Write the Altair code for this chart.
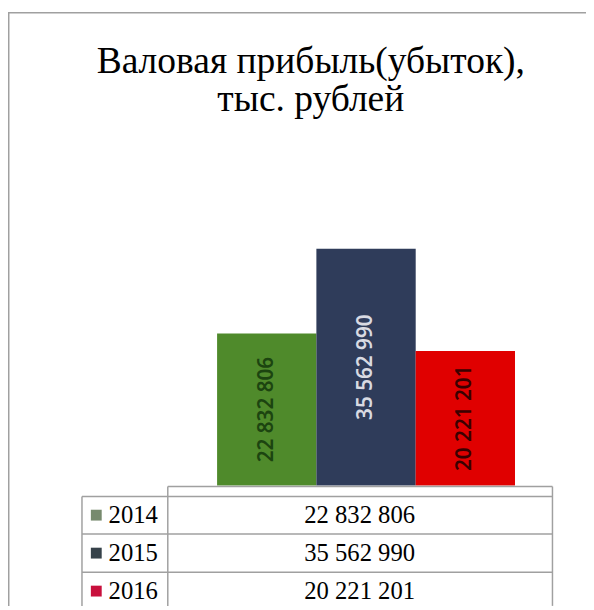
import altair as alt
import pandas as pd

years = ["2014", "2015", "2016"]
values = [22832806, 35562990, 20221201]
title_lines = ["Валовая прибыль(убыток),", "тыс. рублей"]

bar_colors = ["#4f8a2b", "#2f3c5a", "#e00000"]
label_colors = ["#1c4410", "#d8dae2", "#3a0000"]
key_colors = ["#778a6e", "#36424a", "#c8103c"]

df = pd.DataFrame({"year": years, "value": values})
df["label"] = [f"{v:,}".replace(",", " ") for v in values]

LINE = "#a0a0a0"

xband = alt.X("year:N", scale=alt.Scale(domain=years, range=[212, 514], paddingInner=0, paddingOuter=0), axis=None)
yval = alt.Scale(domain=[0, 40000000], range=[480, 210], nice=False, zero=True)

base = alt.Chart(df)

bars = base.mark_bar(size=100.7).encode(
    x=xband,
    y=alt.Y("value:Q", scale=yval, axis=None),
    color=alt.Color("year:N", scale=alt.Scale(domain=years, range=bar_colors), legend=None),
)

labels = base.transform_calculate(mid="datum.value / 2").mark_text(
    angle=270, font="Noto Sans", fontSize=21, fontWeight=600, align="center", baseline="middle"
).encode(
    x=xband,
    y=alt.Y("mid:Q", scale=yval, axis=None),
    text="label:N",
    color=alt.Color("year:N", scale=alt.Scale(domain=years, range=label_colors), legend=None),
)

rowscale = alt.Scale(domain=years, range=[510, 587], type="point", padding=0)

keys = base.mark_square(size=121, opacity=1).encode(
    x=alt.value(89.5),
    y=alt.Y("year:N", scale=rowscale, axis=None),
    color=alt.Color("year:N", scale=alt.Scale(domain=years, range=key_colors), legend=None),
)

year_text = base.mark_text(font="Liberation Serif", fontSize=25, align="left", baseline="middle", color="#000").encode(
    x=alt.value(102),
    y=alt.Y("year:N", scale=rowscale, axis=None),
    text="year:N",
)

val_text = base.mark_text(font="Liberation Serif", fontSize=25, align="center", baseline="middle", color="#000").encode(
    x=alt.value(356.5),
    y=alt.Y("year:N", scale=rowscale, axis=None),
    text="label:N",
)

def hline(x1, x2, y):
    return alt.Chart(df.head(1)).mark_rule(color=LINE, strokeWidth=1.5).encode(
        x=alt.value(x1), x2=alt.value(x2), y=alt.value(y))

def vline(x, y1, y2):
    return alt.Chart(df.head(1)).mark_rule(color=LINE, strokeWidth=1.5).encode(
        x=alt.value(x), y=alt.value(y1), y2=alt.value(y2))

lines = [
    hline(0, 590, 0.75),
    vline(0.75, 0, 602),
    hline(162, 552, 481),
    hline(75, 552, 491),
    hline(75, 552, 529),
    hline(75, 552, 568),
    vline(75, 491, 602),
    vline(162, 481, 602),
    vline(552, 481, 602),
]

title = alt.Chart(df.head(1)).mark_text(
    text="\n".join(title_lines), lineBreak="\n", lineHeight=38,
    font="Liberation Serif", fontSize=38, align="center", baseline="alphabetic", color="#000"
).encode(x=alt.value(307), y=alt.value(62))

chart = alt.layer(bars, labels, *lines, keys, year_text, val_text, title).resolve_scale(
    y="independent", color="independent"
).properties(
    width=586, height=602, autosize=alt.AutoSizeParams(type="none"), padding=0
).configure_view(stroke=None)

chart.save("out.html", embed_options={"renderer": "svg", "actions": False})
